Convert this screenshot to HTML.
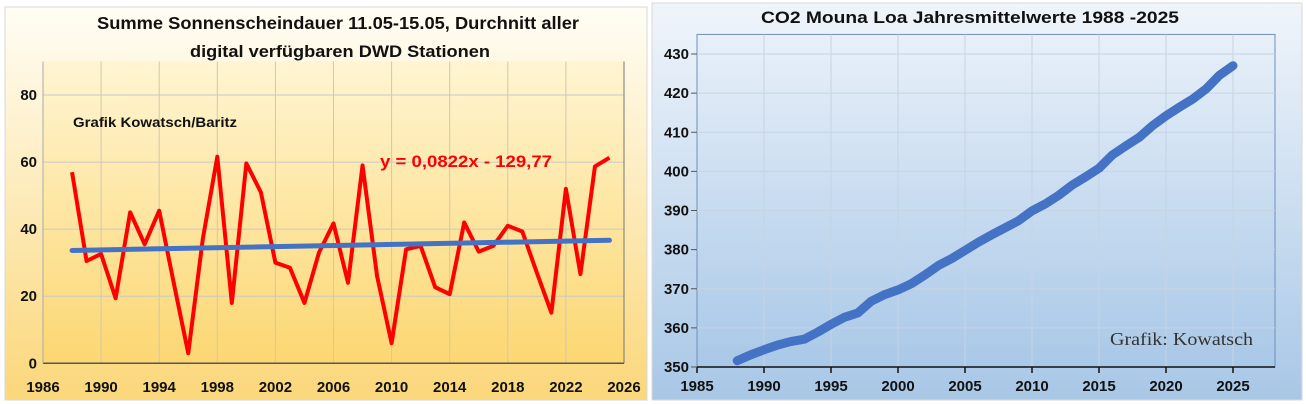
<!DOCTYPE html>
<html><head><meta charset="utf-8">
<style>
html,body{margin:0;padding:0;width:1306px;height:404px;overflow:hidden;background:#fff;font-family:"Liberation Sans",sans-serif;}
svg{display:block}
</style></head>
<body>
<svg width="1306" height="404">
<defs>
<linearGradient id="gL" x1="0" y1="0" x2="0" y2="1"><stop offset="0" stop-color="#fffdf5"/><stop offset="1" stop-color="#fbd77a"/></linearGradient>
<linearGradient id="gLp" x1="0" y1="0" x2="0" y2="1"><stop offset="0" stop-color="#fff5d2"/><stop offset="1" stop-color="#fcd772"/></linearGradient>
<linearGradient id="gR" x1="0" y1="0" x2="0" y2="1"><stop offset="0" stop-color="#f0f5fb"/><stop offset="1" stop-color="#a8c7e6"/></linearGradient>
<linearGradient id="gRp" x1="0" y1="0" x2="0" y2="1"><stop offset="0" stop-color="#e8f0f9"/><stop offset="1" stop-color="#a9c8e7"/></linearGradient>
</defs>
<rect x="5" y="7" width="642" height="393" fill="url(#gL)" stroke="#d8d8d8"/>
<rect x="652" y="3" width="650" height="397" fill="url(#gR)" stroke="#d8d8d8"/>
<g id="left"></g>
<g id="right"></g>
</svg>
<script>
const sunYears=[1988,1989,1990,1991,1992,1993,1994,1995,1996,1997,1998,1999,2000,2001,2002,2003,2004,2005,2006,2007,2008,2009,2010,2011,2012,2013,2014,2015,2016,2017,2018,2019,2020,2021,2022,2023,2024,2025];
const sunHours=[57,30.5,32.6,19.4,45,35.5,45.5,24,3,37,61.6,18,59.6,51,30,28.5,18,33,41.7,24,59,26,6,34,35,22.7,20.6,42,33.3,35,41,39.3,27,15.1,52,26.6,58.7,61.3];
const sunYTicks=[0,20,40,60,80];
const sunXTicks=[1986,1990,1994,1998,2002,2006,2010,2014,2018,2022,2026];
const trendSlope=0.0822, trendIntercept=-129.77;
const co2Years=[1988,1989,1990,1991,1992,1993,1994,1995,1996,1997,1998,1999,2000,2001,2002,2003,2004,2005,2006,2007,2008,2009,2010,2011,2012,2013,2014,2015,2016,2017,2018,2019,2020,2021,2022,2023,2024,2025];
const co2Values=[351.6,353.1,354.4,355.6,356.5,357.1,358.9,360.9,362.7,363.8,366.8,368.5,369.7,371.3,373.5,375.9,377.7,379.8,381.9,383.8,385.6,387.4,389.9,391.7,393.9,396.5,398.6,400.8,404.2,406.5,408.7,411.7,414.2,416.4,418.5,421.1,424.6,427];
const co2YTicks=[350,360,370,380,390,400,410,420,430];
const co2XTicks=[1985,1990,1995,2000,2005,2010,2015,2020,2025];

const NS="http://www.w3.org/2000/svg";
function mk(p,t,a,txt){const e=document.createElementNS(NS,t);for(const k in a)e.setAttribute(k,a[k]);if(txt!==undefined)e.textContent=txt;p.appendChild(e);return e;}

// LEFT
const L=document.getElementById('left');
const lx=v=>43+(v-1986)*(624-43)/40, ly=v=>363.3-v*(363.3-95)/80;
let e=mk(L,'rect',{x:43,y:ly(90),width:581,height:ly(0)-ly(90),fill:'url(#gLp)'});

sunXTicks.forEach(v=>{
 e=mk(L,'line',{x1:lx(v),x2:lx(v),y1:ly(90),y2:ly(0),stroke:'#d0c8b0','stroke-width':1});
 
});
sunYTicks.forEach(v=>{
 if(v>0){e=mk(L,'line',{x1:43,x2:624,y1:ly(v),y2:ly(v),stroke:'#c8c8c8','stroke-width':1});
 }
 e=mk(L,'text',{x:37,y:ly(v)+5,'text-anchor':'end','font-size':15,'font-weight':'bold',fill:'#111'},v);
 
});
sunXTicks.forEach(v=>{
 e=mk(L,'text',{x:lx(v),y:392,'text-anchor':'middle','font-size':15,'font-weight':'bold',fill:'#111'},v);
 
});
e=mk(L,'line',{x1:43,x2:624,y1:ly(0),y2:ly(0),stroke:'#555','stroke-width':1.5});

e=mk(L,'line',{x1:624,x2:624,y1:ly(90),y2:ly(0),stroke:'#777','stroke-width':1});

e=mk(L,'line',{x1:43,x2:43,y1:ly(90),y2:ly(0),stroke:'#aaa','stroke-width':1});

e=mk(L,'polyline',{points:sunYears.map((y,i)=>lx(y)+','+ly(sunHours[i])).join(' '),fill:'none',stroke:'#ff0000','stroke-width':4,'stroke-linejoin':'round'});

const y0=sunYears[0],y1=sunYears[sunYears.length-1];
e=mk(L,'line',{x1:lx(y0),y1:ly(trendSlope*y0+trendIntercept),x2:lx(y1),y2:ly(trendSlope*y1+trendIntercept),stroke:'#4472c4','stroke-width':5,'stroke-linecap':'round'});

e=mk(L,'text',{x:338,y:29,'text-anchor':'middle','font-size':17.5,'font-weight':'bold',fill:'#111',textLength:482,lengthAdjust:'spacingAndGlyphs'},'Summe Sonnenscheindauer  11.05-15.05, Durchnitt aller');

e=mk(L,'text',{x:340,y:57,'text-anchor':'middle','font-size':17,'font-weight':'bold',fill:'#111',textLength:300,lengthAdjust:'spacingAndGlyphs'},'digital verfügbaren DWD Stationen');

e=mk(L,'text',{x:73,y:127,'font-size':14,'font-weight':'bold',fill:'#111',textLength:164,lengthAdjust:'spacingAndGlyphs'},'Grafik Kowatsch/Baritz');

e=mk(L,'text',{x:380,y:167,'font-size':17,'font-weight':'bold',fill:'#ff0000',textLength:172,lengthAdjust:'spacingAndGlyphs'},'y = 0,0822x - 129,77');


// RIGHT
const R=document.getElementById('right');
const rx=v=>697+(v-1985)*(1233-697)/40, ry=v=>367-(v-350)*(367-54)/80;
const rRight=1275;
e=mk(R,'rect',{x:697,y:ry(435),width:rRight-697,height:ry(350)-ry(435),fill:'url(#gRp)',stroke:'#6f8fbf','stroke-width':1});

co2XTicks.forEach(v=>{
 if(v>1985){e=mk(R,'line',{x1:rx(v),x2:rx(v),y1:ry(435),y2:ry(350),stroke:'#c6d3e3','stroke-width':1});
 }
 e=mk(R,'line',{x1:rx(v),x2:rx(v),y1:ry(350),y2:ry(350)+6,stroke:'#111','stroke-width':1.5});
 
 e=mk(R,'text',{x:rx(v),y:391,'text-anchor':'middle','font-size':15,'font-weight':'bold',fill:'#111'},v);
 
});
co2YTicks.forEach(v=>{
 if(v>350){e=mk(R,'line',{x1:697,x2:rRight,y1:ry(v),y2:ry(v),stroke:'#c6d3e3','stroke-width':1});
 }
 e=mk(R,'line',{x1:691,x2:697,y1:ry(v),y2:ry(v),stroke:'#555','stroke-width':1});
 
 e=mk(R,'text',{x:689,y:ry(v)+5,'text-anchor':'end','font-size':15,'font-weight':'bold',fill:'#111'},v);
 
});
e=mk(R,'line',{x1:697,x2:rRight,y1:ry(350),y2:ry(350),stroke:'#111','stroke-width':1.5});

e=mk(R,'polyline',{points:co2Years.map((y,i)=>rx(y)+','+ry(co2Values[i])).join(' '),fill:'none',stroke:'#4472c4','stroke-width':9,'stroke-linejoin':'round','stroke-linecap':'round'});

e=mk(R,'text',{x:970,y:23,'text-anchor':'middle','font-size':17,'font-weight':'bold',fill:'#111',textLength:418,lengthAdjust:'spacingAndGlyphs'},'CO2 Mouna Loa Jahresmittelwerte 1988 -2025');

e=mk(R,'text',{x:1110,y:345,'font-size':18,fill:'#333','font-family':'Liberation Serif, serif',textLength:143,lengthAdjust:'spacingAndGlyphs'},'Grafik: Kowatsch');

</script>
</body></html>
